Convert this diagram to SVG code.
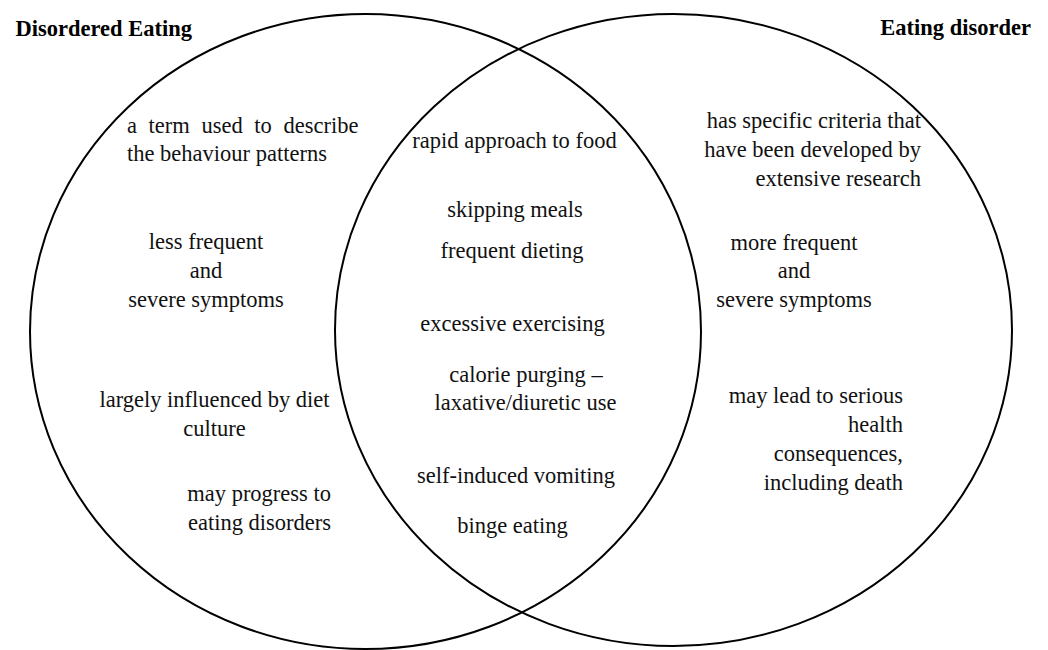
<svg xmlns="http://www.w3.org/2000/svg" width="1048" height="650" viewBox="0 0 1048 650">
<style>
.c{fill:none;stroke:#000;stroke-width:2}
text{font-family:"Liberation Serif","Times New Roman",serif;font-size:22.5px;fill:#111}
.t{font-weight:bold;fill:#000}
.m{text-anchor:middle}
.e{text-anchor:end}
</style>
<rect width="1048" height="650" fill="#fff"/>
<g id="circle-disordered-eating">
<ellipse class="c" cx="365.5" cy="331.5" rx="335.5" ry="317.5"/>
</g>
<g id="circle-eating-disorder">
<ellipse class="c" cx="673.5" cy="330" rx="338.5" ry="316"/>
</g>
<g id="titles">
<text class="t" x="15.5" y="36">Disordered Eating</text>
<text class="t e" x="1031" y="35">Eating disorder</text>
</g>
<g id="left-only">
<text x="127" y="133" word-spacing="6">a term used to describe</text>
<text x="127" y="161">the behaviour patterns</text>
<text class="m" x="206" y="249">less frequent</text>
<text class="m" x="206" y="278">and</text>
<text class="m" x="206" y="307">severe symptoms</text>
<text class="m" x="214.5" y="407">largely influenced by diet</text>
<text class="m" x="214.5" y="436">culture</text>
<text class="e" x="331" y="501">may progress to</text>
<text class="e" x="331" y="530">eating disorders</text>
</g>
<g id="overlap">
<text class="m" x="514.5" y="148">rapid approach to food</text>
<text class="m" x="515" y="217">skipping meals</text>
<text class="m" x="512" y="258">frequent dieting</text>
<text class="m" x="512.5" y="331">excessive exercising</text>
<text class="m" x="526" y="382">calorie purging –</text>
<text class="m" x="525.5" y="410">laxative/diuretic use</text>
<text class="m" x="516" y="483">self-induced vomiting</text>
<text class="m" x="512.5" y="533">binge eating</text>
</g>
<g id="right-only">
<text class="e" x="921" y="128">has specific criteria that</text>
<text class="e" x="921" y="157">have been developed by</text>
<text class="e" x="921" y="186">extensive research</text>
<text class="m" x="794" y="250">more frequent</text>
<text class="m" x="794" y="278">and</text>
<text class="m" x="794" y="307">severe symptoms</text>
<text class="e" x="903" y="403">may lead to serious</text>
<text class="e" x="903" y="432">health</text>
<text class="e" x="903" y="461">consequences,</text>
<text class="e" x="903" y="490">including death</text>
</g>
<g id="connectors"></g>
</svg>
